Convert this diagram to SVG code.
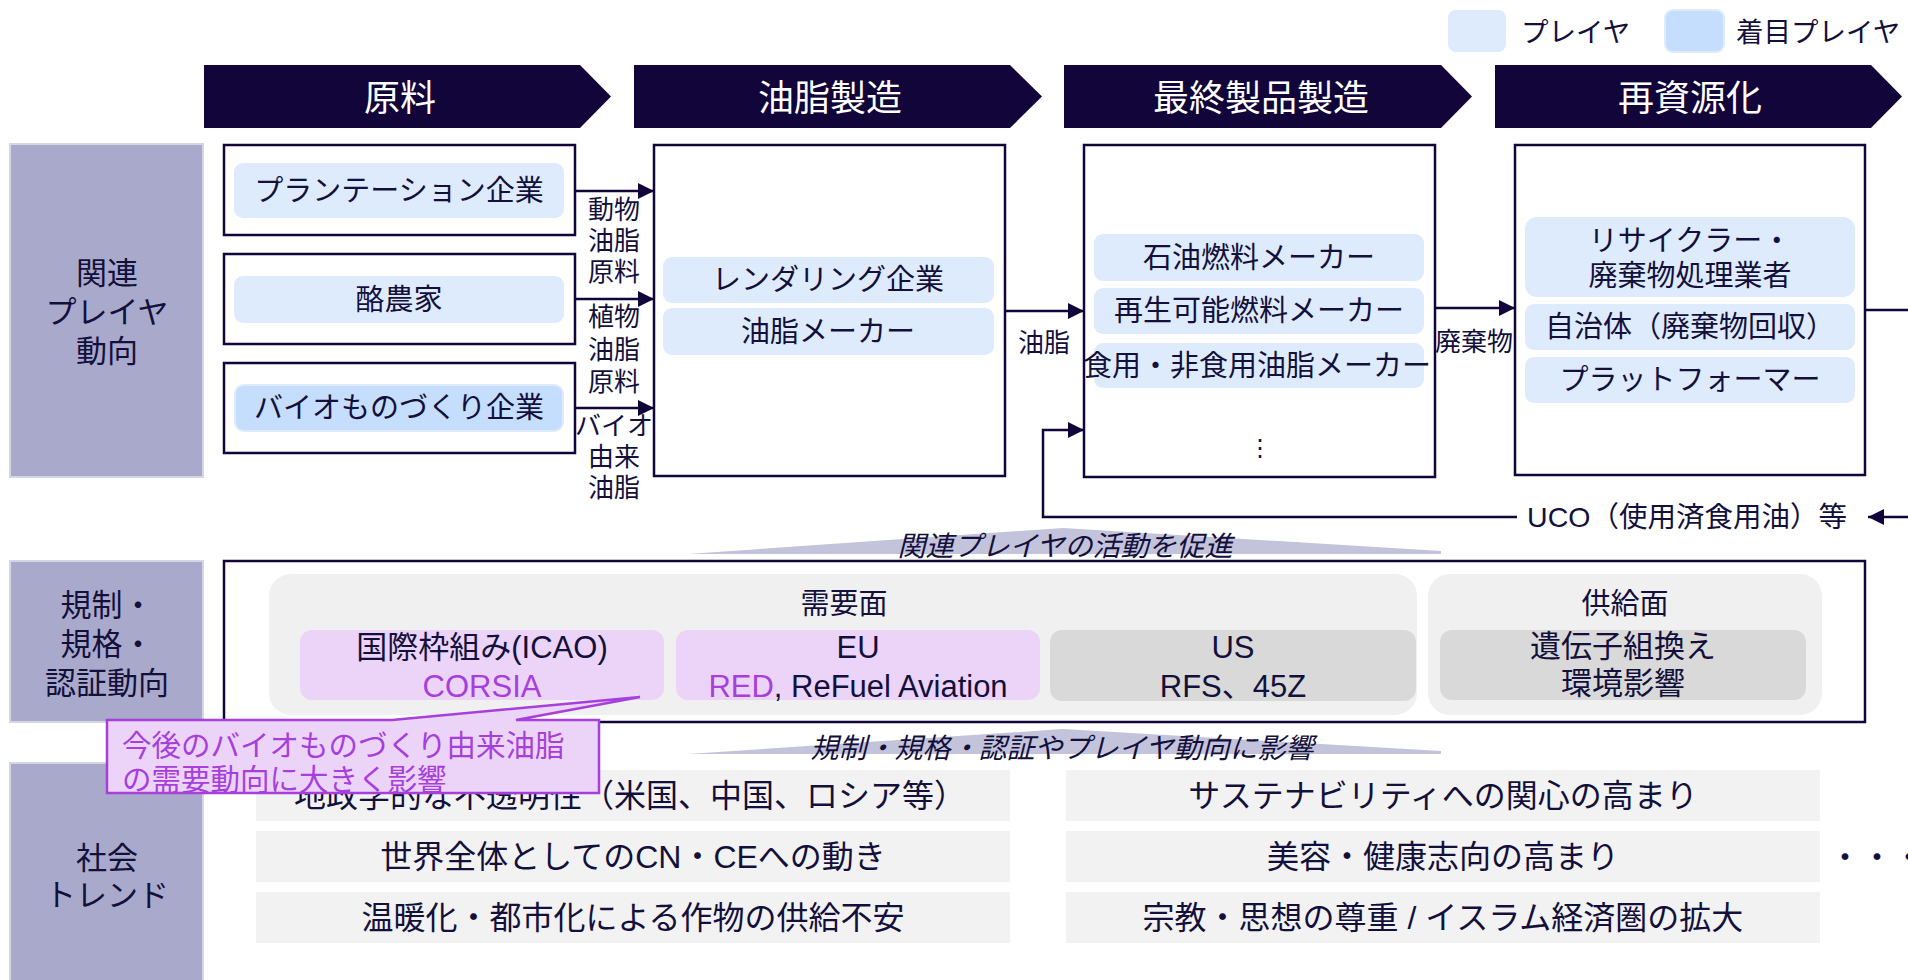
<svg xmlns="http://www.w3.org/2000/svg" width="1908" height="980" viewBox="0 0 1908 980">
<defs>
<style>
.t{font-family:"Liberation Sans","Noto Sans CJK JP",sans-serif;fill:#14103c}
.w{fill:#ffffff}
.c{text-anchor:middle}
.hd{font-size:36px}
.lg{font-size:27.5px}
.rl{font-size:31px}
.pl{font-size:29px}
.fl{font-size:26px}
.it{font-size:28px;font-style:italic}
.rg{font-size:31px}
.st{font-size:32px}
.pu{fill:#a63fdc}
.chev{fill:#110539}
.rowlab{fill:#a9aacb;stroke:#d5d5e6;stroke-width:2}
.box{fill:#ffffff;stroke:#110539;stroke-width:2.5}
.pill{fill:#deebfc}
.pillh{fill:#c5defd;stroke:#deebfc;stroke-width:2}
.gbg{fill:#f0f0f0}
.gp{fill:#d9d9d9}
.pp{fill:#ebd4f8}
.bar{fill:#f2f2f2}
.wedge{fill:#c3c3db}
.con{fill:none;stroke:#110539;stroke-width:2.5}
</style>
<marker id="ah" viewBox="0 0 16 16" markerWidth="16" markerHeight="16" refX="16" refY="8" orient="auto" markerUnits="userSpaceOnUse"><path d="M0,0 L16,8 L0,16 Z" fill="#110539"/></marker>
</defs>
<rect width="1908" height="980" fill="#ffffff"/>

<g id="legend">
<rect x="1448" y="10" width="58" height="42" rx="8" class="pill"/>
<text x="1521" y="42" class="t lg">プレイヤ</text>
<rect x="1665" y="10" width="59" height="42" rx="8" class="pillh"/>
<text x="1736" y="42" class="t lg">着目プレイヤ</text>
</g>

<g id="headers">
<path d="M204,65 H580 L611,96.5 L580,128 H204 Z" class="chev"/>
<text x="400" y="111" class="t w c hd">原料</text>
<path d="M634,65 H1010 L1042,96.5 L1010,128 H634 Z" class="chev"/>
<text x="830" y="111" class="t w c hd">油脂製造</text>
<path d="M1064,65 H1441 L1472,96.5 L1441,128 H1064 Z" class="chev"/>
<text x="1261" y="111" class="t w c hd">最終製品製造</text>
<path d="M1495,65 H1871 L1902,96.5 L1871,128 H1495 Z" class="chev"/>
<text x="1690" y="111" class="t w c hd">再資源化</text>
</g>

<g id="row-players">
<rect x="10" y="144" width="193" height="333" class="rowlab"/>
<text x="107" y="284" class="t c rl">関連</text>
<text x="107" y="323" class="t c rl">プレイヤ</text>
<text x="107" y="362" class="t c rl">動向</text>
</g>
<g id="row-regulation">
<rect x="10" y="561" width="193" height="161" class="rowlab"/>
<text x="107" y="616" class="t c rl">規制・</text>
<text x="107" y="655" class="t c rl">規格・</text>
<text x="107" y="694" class="t c rl">認証動向</text>
</g>
<g id="row-trend">
<rect x="10" y="763" width="193" height="222" class="rowlab"/>
<text x="107" y="869" class="t c rl">社会</text>
<text x="107" y="906" class="t c rl">トレンド</text>
</g>

<g id="connectors">
<path d="M575,191 H654" class="con" marker-end="url(#ah)"/>
<path d="M575,299 H654" class="con" marker-end="url(#ah)"/>
<path d="M575,408 H654" class="con" marker-end="url(#ah)"/>
<path d="M1005,311 H1084" class="con" marker-end="url(#ah)"/>
<path d="M1435,308 H1515" class="con" marker-end="url(#ah)"/>
<path d="M1865,310 H1908" class="con"/>
<path d="M1908,517 H1868" class="con" marker-end="url(#ah)"/>
<path d="M1517,517 H1043 V430 H1084" class="con" marker-end="url(#ah)"/>
<text x="614" y="219" class="t c fl">動物</text>
<text x="614" y="250" class="t c fl">油脂</text>
<text x="614" y="281" class="t c fl">原料</text>
<text x="614" y="326" class="t c fl">植物</text>
<text x="614" y="359" class="t c fl">油脂</text>
<text x="614" y="391" class="t c fl">原料</text>
<text x="614" y="435" class="t c fl">バイオ</text>
<text x="614" y="466" class="t c fl">由来</text>
<text x="614" y="497" class="t c fl">油脂</text>
<text x="1044" y="352" class="t c fl">油脂</text>
<text x="1474" y="351" class="t c fl">廃棄物</text>
<text x="1687" y="527" class="t c" style="font-size:28.5px">UCO（使用済食用油）等</text>
</g>

<g id="src-plantation">
<rect x="224" y="145" width="351" height="90" class="box"/>
<rect x="234" y="163" width="330" height="55" rx="9" class="pill"/>
<text x="399" y="201" class="t c pl">プランテーション企業</text>
</g>
<g id="src-dairy">
<rect x="224" y="254" width="351" height="90" class="box"/>
<rect x="234" y="276" width="330" height="47" rx="9" class="pill"/>
<text x="399" y="310" class="t c pl">酪農家</text>
</g>
<g id="src-bio">
<rect x="224" y="363" width="351" height="90" class="box"/>
<rect x="235" y="385" width="328" height="46" rx="9" class="pillh"/>
<text x="399" y="418" class="t c pl">バイオものづくり企業</text>
</g>

<g id="oil-production">
<rect x="654" y="145" width="351" height="331" class="box"/>
<rect x="663" y="257" width="331" height="46" rx="9" class="pill"/>
<text x="828" y="290" class="t c pl">レンダリング企業</text>
<rect x="663" y="308" width="331" height="47" rx="9" class="pill"/>
<text x="828" y="342" class="t c pl">油脂メーカー</text>
</g>

<g id="final-products">
<rect x="1084" y="145" width="351" height="332" class="box"/>
<rect x="1094" y="234" width="330" height="47" rx="9" class="pill"/>
<text x="1259" y="268" class="t c pl">石油燃料メーカー</text>
<rect x="1094" y="288" width="330" height="46" rx="9" class="pill"/>
<text x="1259" y="321" class="t c pl">再生可能燃料メーカー</text>
<rect x="1094" y="343" width="330" height="45" rx="9" class="pill"/>
<text x="1257" y="376" class="t c pl">食用・非食用油脂メーカー</text>
<text x="1260" y="456" class="t c" style="font-size:24px">⋮</text>
</g>

<g id="recycling">
<rect x="1515" y="145" width="350" height="330" class="box"/>
<rect x="1525" y="217" width="330" height="80" rx="12" class="pill"/>
<text x="1690" y="251" class="t c pl">リサイクラー・</text>
<text x="1690" y="286" class="t c pl">廃棄物処理業者</text>
<rect x="1525" y="304" width="330" height="46" rx="9" class="pill"/>
<text x="1690" y="337" class="t c pl">自治体（廃棄物回収）</text>
<rect x="1525" y="357" width="330" height="46" rx="9" class="pill"/>
<text x="1690" y="390" class="t c pl">プラットフォーマー</text>
</g>

<g id="wedge-promote">
<polygon points="688,554 1063,528 1441,551 1441,554" class="wedge"/>
<text x="1065" y="556" class="t c it">関連プレイヤの活動を促進</text>
</g>

<g id="regulation">
<rect x="224" y="561" width="1641" height="161" class="box"/>
<rect x="269" y="574" width="1148" height="141" rx="22" class="gbg"/>
<text x="844" y="614" class="t c pl">需要面</text>
<rect x="1428" y="574" width="394" height="141" rx="22" class="gbg"/>
<text x="1625" y="614" class="t c pl">供給面</text>
<rect x="300" y="630" width="364" height="70" rx="12" class="pp"/>
<text x="482" y="658" class="t c rg">国際枠組み(ICAO)</text>
<text x="482" y="697" class="t c rg pu">CORSIA</text>
<rect x="676" y="630" width="364" height="70" rx="12" class="pp"/>
<text x="858" y="658" class="t c rg">EU</text>
<text x="858" y="697" class="t c rg"><tspan class="pu">RED</tspan>, ReFuel Aviation</text>
<rect x="1050" y="630" width="366" height="71" rx="12" class="gp"/>
<text x="1233" y="658" class="t c rg">US</text>
<text x="1233" y="697" class="t c rg">RFS、45Z</text>
<rect x="1440" y="630" width="366" height="70" rx="12" class="gp"/>
<text x="1623" y="657" class="t c rg">遺伝子組換え</text>
<text x="1623" y="694" class="t c rg">環境影響</text>
</g>

<g id="wedge-influence">
<polygon points="688,754 1063,729 1441,751 1441,754" class="wedge"/>
<text x="1062" y="758" class="t c it">規制・規格・認証やプレイヤ動向に影響</text>
</g>

<g id="trends">
<rect x="256" y="770" width="754" height="51" class="bar"/>
<text x="630" y="807" class="t c st">地政学的な不透明性（米国、中国、ロシア等）</text>
<rect x="256" y="831" width="754" height="51" class="bar"/>
<text x="633" y="868" class="t c st">世界全体としてのCN・CEへの動き</text>
<rect x="256" y="892" width="754" height="51" class="bar"/>
<text x="633" y="929" class="t c st">温暖化・都市化による作物の供給不安</text>
<rect x="1066" y="770" width="754" height="51" class="bar"/>
<text x="1443" y="807" class="t c st">サステナビリティへの関心の高まり</text>
<rect x="1066" y="831" width="754" height="51" class="bar"/>
<text x="1443" y="868" class="t c st">美容・健康志向の高まり</text>
<rect x="1066" y="892" width="754" height="51" class="bar"/>
<text x="1443" y="929" class="t c st">宗教・思想の尊重 / イスラム経済圏の拡大</text>
<text x="1829" y="869" class="t" style="font-size:32px">・・・</text>
</g>

<g id="callout">
<path d="M107,720 H392 L640,697 L516,720 H599 V793 H107 Z" fill="#ebd4f8" stroke="#a63fdc" stroke-width="2.5" stroke-linejoin="miter"/>
<text x="122" y="756" class="t pu" style="font-size:29.5px">今後のバイオものづくり由来油脂</text>
<text x="122" y="790" class="t pu" style="font-size:29.5px">の需要動向に大きく影響</text>
</g>
</svg>
